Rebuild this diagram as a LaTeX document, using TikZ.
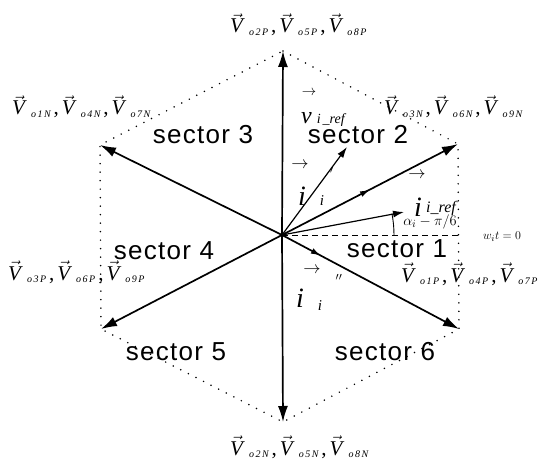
\documentclass[tikz,border=0pt]{standalone}
\usepackage{fontspec}
\setmainfont{Liberation Serif}
\setsansfont{Liberation Sans}[LetterSpace=5]
\usetikzlibrary{arrows.meta,decorations.markings}
\newcommand\VV[3]{$\vec{\mbox{\itshape V}}$\hspace{6pt}\raisebox{-0.3ex}{\fontsize{10}{10}\selectfont\itshape #1\hspace{1.5pt}#2\hspace{1.5pt}#3}}
\newcommand\VL[4]{\VV{o}{#1}{#4}\hspace{3pt},\hspace{3pt}\VV{o}{#2}{#4}\hspace{3pt},\hspace{3pt}\VV{o}{#3}{#4}}
\tikzset{
  axisarrow/.style={line width=1.7pt,-{Latex[length=16pt,width=10pt]}},
  curarrow/.style={line width=1.2pt,-{Latex[length=11pt,width=7pt]}},
  hexline/.style={line width=1.7pt,dash pattern=on 0pt off 8.5pt,line cap=round},
  midarrow/.style={postaction={decorate},decoration={markings,mark=at position #1 with {\arrow{Latex[length=10pt,width=6pt]}}}},
  vlab/.style={font=\fontsize{21}{22}\selectfont,inner sep=0pt,anchor=base west},
  seclab/.style={font=\sffamily\fontsize{26}{28}\selectfont,inner sep=0pt},
  bigi/.style={font=\fontsize{28}{30}\selectfont\itshape,inner sep=0pt},
  smalli/.style={font=\fontsize{15}{16}\selectfont\itshape,inner sep=0pt},
  vecmark/.style={font=\fontsize{18}{18}\selectfont,inner sep=0pt}
}
\begin{document}
\begin{tikzpicture}[x=1pt,y=-1pt]
\useasboundingbox (0,0) rectangle (560,468);
\fill[white] (0,0) rectangle (560,468);
\coordinate (O) at (282,235);
\coordinate (T) at (283,51);
\coordinate (UR) at (458,144);
\coordinate (LR) at (459,329);
\coordinate (B) at (283,422);
\coordinate (LL) at (101,329);
\coordinate (UL) at (100,145);
\coordinate (E) at (459,235);
\coordinate (Pi) at (347,147);
\coordinate (Pr) at (404,212);
% hexagon
\draw[hexline] (T) -- (UR) -- (LR) -- (B) -- (LL) -- (UL) -- cycle;
% axes
\draw[axisarrow] (O) -- (T);
\draw[axisarrow] (O) -- (B);
\draw[axisarrow,midarrow=0.5] (O) -- (UR);
\draw[axisarrow,midarrow=0.22] (O) -- (LR);
\draw[axisarrow] (O) -- (LL);
\draw[axisarrow] (O) -- (UL);
% dashed reference
\draw[line width=0.9pt,dash pattern=on 6pt off 4pt] (O) -- (E);
% current vectors
\draw[curarrow] (O) -- (Pi);
\draw[curarrow] (O) -- (Pr);
% angle arc
\draw[line width=0.9pt] (394,235) arc[start angle=0,end angle=-11,radius=112];
% vertex labels
\node[vlab] (lt) at (230,33) {\VL{2}{5}{8}{P}};
\node[vlab] (lb) at (230,455) {\VL{2}{5}{8}{N}};
\node[vlab] (lul) at (12,115) {\VL{1}{4}{7}{N}};
\node[vlab] (lur) at (384,115) {\VL{3}{6}{9}{N}};
\node[vlab] (lll) at (8,280) {\VL{3}{6}{9}{P}};
\node[vlab] (llr) at (401,282) {\VL{1}{4}{7}{P}};
% sector labels
\node[seclab] (s1) at (397,249) {sector 1};
\node[seclab] (s2) at (358,135) {sector 2};
\node[seclab] (s3) at (203,135) {sector 3};
\node[seclab] (s4) at (164,251) {sector 4};
\node[seclab] (s5) at (176,352) {sector 5};
\node[seclab] (s6) at (385,352) {sector 6};
% v_i_ref
\node[font=\fontsize{14}{14}\selectfont,inner sep=0pt] (av) at (309,93) {$\rightarrow$};
\node[inner sep=0pt,anchor=base west] (vref) at (301,124) {{\fontsize{24}{24}\selectfont\itshape v}\hspace{5pt}{\fontsize{14}{14}\selectfont\itshape i\hspace{2pt}\_ref}};
% i_i'
\node[vecmark] (a1) at (300,165) {$\rightarrow$};
\node[bigi] (i1) at (302,196) {i};
\node[smalli] (i1s) at (322,201) {i};
\node[smalli] (i1p) at (332,173) {$'$};
% i_i''
\node[vecmark] (a2) at (312,270) {$\rightarrow$};
\node[bigi] (i2) at (300,298) {i};
\node[smalli] (i2s) at (320,306) {i};
\node[smalli] (i2p) at (339,280) {$''$};
% i_ref
\node[vecmark] (a3) at (417,175) {$\rightarrow$};
\node[bigi] (ir) at (418,207) {i};
\node[inner sep=0pt,anchor=west,font=\fontsize{16}{16}\selectfont\itshape] (irs) at (426,209) {i\_ref};
% angle label and w t
\node[inner sep=0pt,font=\fontsize{15}{15}\selectfont] (alab) at (430,222) {$\alpha_i-\pi/6$};
\node[inner sep=0pt,font=\fontsize{13}{13}\selectfont] (wlab) at (502,237) {$w_i t = 0$};
\end{tikzpicture}
\end{document}
